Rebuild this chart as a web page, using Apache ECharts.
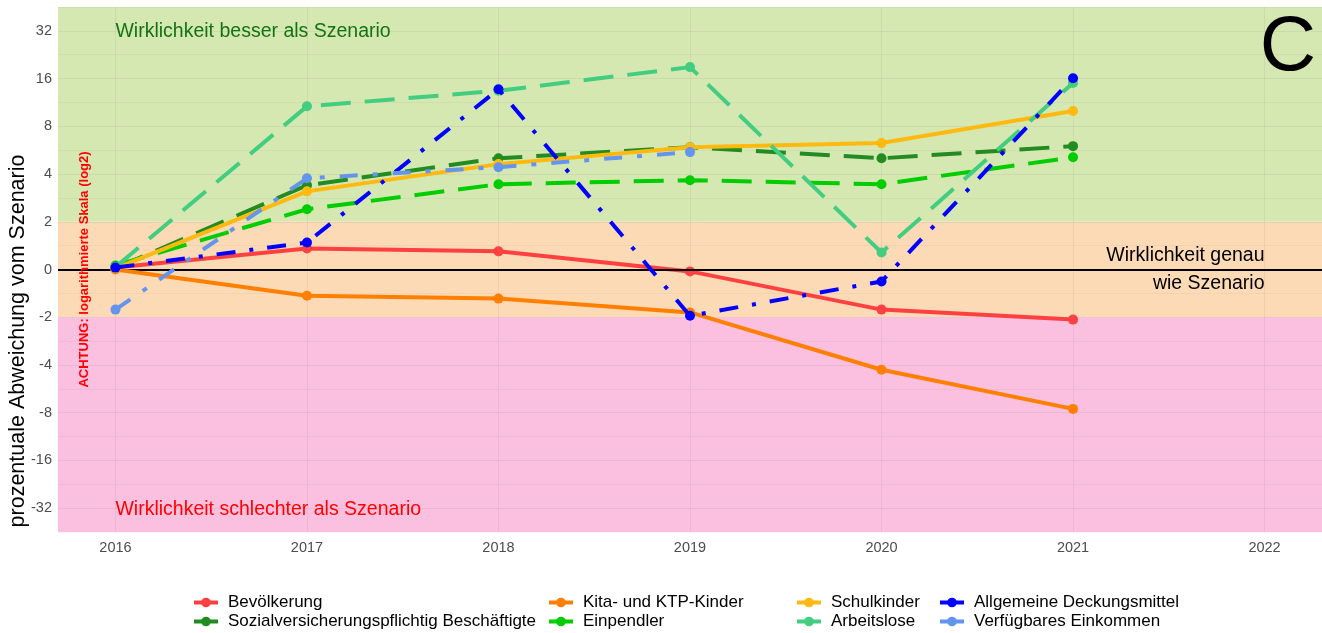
<!DOCTYPE html>
<html>
<head>
<meta charset="utf-8">
<script src="https://cdn.jsdelivr.net/npm/echarts@6/dist/echarts.min.js"></script>
<style>
  html, body { margin: 0; padding: 0; background: #fff; }
  #chart { width: 1322px; height: 633px; }
</style>
</head>
<body>
<div id="chart"></div>
<script>
// Jahre und Abweichungen in Prozent
var years = [2016, 2017, 2018, 2019, 2020, 2021];
var axisYears = [2016, 2017, 2018, 2019, 2020, 2021, 2022];
var yTicks = [-32, -16, -8, -4, -2, 0, 2, 4, 8, 16, 32];

var bevoelkerung   = [0.08, 0.88, 0.76, -0.08, -1.68, -2.07];
var kita           = [0, -1.1, -1.22, -1.8, -4.29, -7.57];
var schulkinder    = [0.05, 3.11, 4.62, 5.9, 6.27, 10.0];
var deckungsmittel = [0.08, 1.13, 13.7, -1.94, -0.5, 16.1];
var sozial         = [0.05, 3.4, 5.03, 5.9, 5.03, 6.0];
var einpendler     = [0.17, 2.4, 3.45, 3.66, 3.45, 5.1];
var arbeitslose    = [0.1, 10.7, 13.4, 18.9, 0.71, 15.0];
var einkommen      = [-1.68, 3.76, 4.42, 5.5, null, null];

var FONT = 'Liberation Sans';

// Transformation: linear zwischen -2 und 2, darueber log2
function tr(v) {
    if (Math.abs(v) <= 2) return v / 2;
    return (v > 0 ? 1 : -1) * Math.log2(Math.abs(v));
}

function toPairs(arr) {
    var out = [];
    for (var i = 0; i < arr.length; i++) {
        if (arr[i] !== null) out.push([years[i], tr(arr[i])]);
    }
    return out;
}

var DASHED = [30, 14];
var DOTDASH = [19, 14, 4, 14];
var TWODASH = [18, 15, 5, 15];

var seriesDefs = [
    { name: 'Bevölkerung', data: bevoelkerung, color: '#FF4040', type: 'solid' },
    { name: 'Sozialversicherungspflichtig Beschäftigte', data: sozial, color: '#228B22', type: DASHED },
    { name: 'Kita- und KTP-Kinder', data: kita, color: '#FF7F00', type: 'solid' },
    { name: 'Einpendler', data: einpendler, color: '#00CD00', type: DASHED },
    { name: 'Schulkinder', data: schulkinder, color: '#FFB90F', type: 'solid' },
    { name: 'Arbeitslose', data: arbeitslose, color: '#43CD80', type: DASHED },
    { name: 'Allgemeine Deckungsmittel', data: deckungsmittel, color: '#0000FF', type: DOTDASH },
    { name: 'Verfügbares Einkommen', data: einkommen, color: '#6495ED', type: TWODASH }
];

var chart = echarts.init(document.getElementById('chart'));

var series = [];
// Hintergrundbaender
series.push({
    name: 'bands', type: 'line', data: [], z: 1, silent: true,
    markArea: {
        silent: true,
        data: [
            [{ yAxis: 1, itemStyle: { color: '#D6E8B1' } }, { yAxis: 5.5 }],
            [{ yAxis: -1, itemStyle: { color: '#FDDAB6' } }, { yAxis: 1 }],
            [{ yAxis: -5.5, itemStyle: { color: '#FBC0DF' } }, { yAxis: -1 }]
        ]
    }
});
// vertikale Gitterlinien
series.push({
    name: 'vgrid', type: 'line', data: [], z: 2, silent: true,
    markLine: {
        silent: true, symbol: ['none', 'none'], label: { show: false },
        lineStyle: { color: 'rgba(128,128,128,0.13)', width: 1, type: 'solid' },
        data: axisYears.map(function (y) { return { xAxis: y }; })
    }
});
// Nulllinie
series.push({
    name: 'zero', type: 'line', data: [], z: 3, silent: true,
    markLine: {
        silent: true, symbol: ['none', 'none'], label: { show: false },
        lineStyle: { color: '#000', width: 2, type: 'solid' },
        data: [{ yAxis: 0 }]
    }
});

seriesDefs.forEach(function (s, i) {
    series.push({
        name: s.name,
        type: 'line',
        data: toPairs(s.data),
        z: 4 + i,
        symbol: 'circle',
        symbolSize: 10,
        showAllSymbol: true,
        color: s.color,
        itemStyle: { color: s.color },
        lineStyle: { color: s.color, width: 4, type: s.type, cap: 'butt' }
    });
});

var legendLefts = [192, 547, 795, 938];
var legends = legendLefts.map(function (left, c) {
    return {
        orient: 'vertical',
        left: left,
        top: 594,
        height: 60,
        padding: 0,
        itemWidth: 24,
        itemHeight: 12,
        itemGap: 2,
        data: [seriesDefs[2 * c].name, seriesDefs[2 * c + 1].name],
        lineStyle: { type: 'solid', width: 4 },
        textStyle: { fontFamily: FONT, fontSize: 17, color: '#000', padding: [0, 0, 0, 5] },
        selectedMode: false
    };
});

chart.setOption({
    animation: false,
    textStyle: { fontFamily: FONT },
    grid: { left: 58, right: 0, top: 7, bottom: 101, containLabel: false },
    xAxis: {
        type: 'value',
        min: 2015.7,
        max: 2022.3,
        axisLine: { show: false },
        axisTick: { show: false },
        splitLine: { show: false },
        axisLabel: {
            customValues: axisYears,
            color: '#4D4D4D',
            fontSize: 14.5,
            fontFamily: FONT,
            margin: 8,
            formatter: function (v) { return String(v); }
        }
    },
    yAxis: {
        type: 'value',
        min: -5.5,
        max: 5.5,
        interval: 0.5,
        z: 2,
        axisLine: { show: false },
        axisTick: { show: false },
        splitLine: {
            show: true,
            lineStyle: { color: ['rgba(128,128,128,0.09)', 'rgba(128,128,128,0.13)'], width: 1 }
        },
        axisLabel: {
            color: '#4D4D4D',
            fontSize: 14.5,
            fontFamily: FONT,
            margin: 6,
            formatter: function (v) {
                if (Math.abs(v - Math.round(v)) > 1e-6) return '';
                var t = Math.round(v);
                if (Math.abs(t) > 5) return '';
                if (t === 0) return '0';
                var val = Math.pow(2, Math.abs(t));
                if (yTicks.indexOf(t > 0 ? val : -val) < 0) return '';
                return (t > 0 ? '' : '-') + val;
            }
        }
    },
    legend: legends,
    series: series
});

// Beschriftungen an Datenkoordinaten
function px(x, y) { return chart.convertToPixel({ gridIndex: 0 }, [x, y]); }
var pBesser = px(2016, tr(32));
var pSchlechter = px(2016, tr(-32));
var pGenau = px(2022, 0);
var pAchtung = px(2015.84, 0);

chart.setOption({
    graphic: [
        { type: 'text', x: pBesser[0], y: pBesser[1] + 1, z: 20,
          style: { text: 'Wirklichkeit besser als Szenario', fill: '#137313', font: '19.5px ' + FONT, verticalAlign: 'middle' } },
        { type: 'text', x: pSchlechter[0], y: pSchlechter[1] + 1, z: 20,
          style: { text: 'Wirklichkeit schlechter als Szenario', fill: '#FF0000', font: '19.5px ' + FONT, verticalAlign: 'middle' } },
        { type: 'text', x: pGenau[0], y: pGenau[1] - 14, z: 20,
          style: { text: 'Wirklichkeit genau', fill: '#000', font: '19.5px ' + FONT, align: 'right', verticalAlign: 'middle' } },
        { type: 'text', x: pGenau[0], y: pGenau[1] + 14, z: 20,
          style: { text: 'wie Szenario', fill: '#000', font: '19.5px ' + FONT, align: 'right', verticalAlign: 'middle' } },
        { type: 'text', x: 1288, y: 48, z: 20,
          style: { text: 'C', fill: '#000', font: '78px ' + FONT, align: 'center', verticalAlign: 'middle' } },
        { type: 'text', x: pAchtung[0], y: pAchtung[1], rotation: Math.PI / 2, z: 20,
          style: { text: 'ACHTUNG: logarithmierte Skala (log2)', fill: '#FF0000', font: 'bold 13px ' + FONT, align: 'center', verticalAlign: 'middle' } },
        { type: 'text', x: 18, y: 341, rotation: Math.PI / 2, z: 20,
          style: { text: 'prozentuale Abweichung vom Szenario', fill: '#000', font: '21.5px ' + FONT, align: 'center', verticalAlign: 'middle' } }
    ]
});
</script>
</body>
</html>
